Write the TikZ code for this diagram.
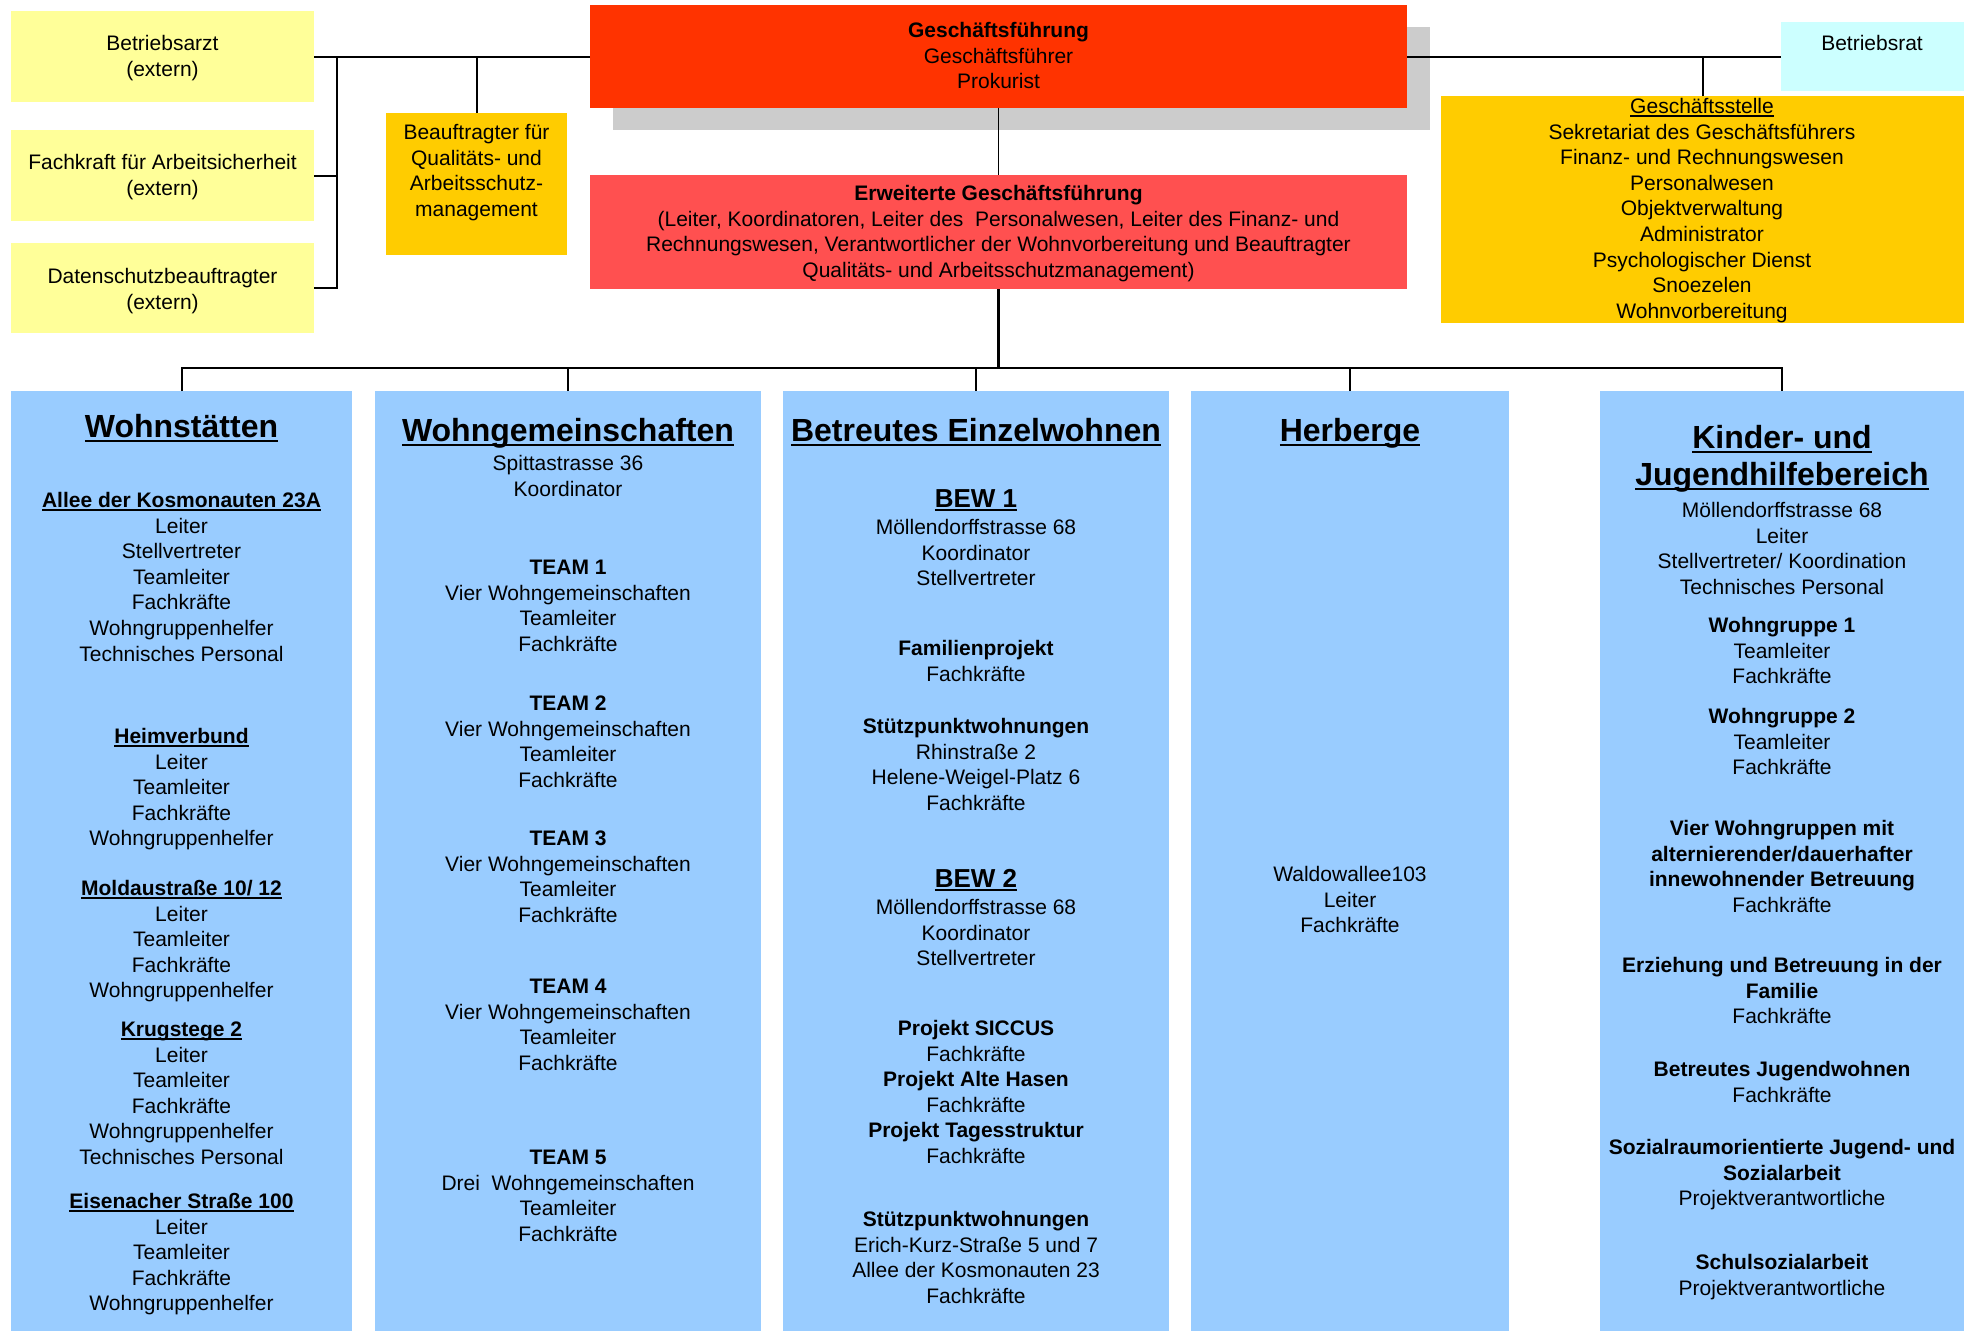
\documentclass[tikz,border=0pt]{standalone}
\usepackage{fontspec}
\setmainfont{Liberation Sans}
\definecolor{ylw}{HTML}{FFFF99}
\definecolor{gold}{HTML}{FFCC00}
\definecolor{gfred}{HTML}{FF3300}
\definecolor{erwred}{HTML}{FF5050}
\definecolor{cyanbox}{HTML}{CCFFFF}
\definecolor{colblue}{HTML}{99CCFF}
\definecolor{shadowgray}{HTML}{CCCCCC}
\newcommand\bl[1]{\begin{tabular}[t]{@{}c@{}}#1\end{tabular}}
\newcommand\myul[1]{\setbox0=\hbox{#1}\rlap{\rule[-0.15em]{\wd0}{0.07em}}\box0}
\tikzset{
 boxn/.style={inner sep=0pt, outer sep=0pt, draw=none, anchor=north west},
 txt/.style={inner sep=0pt, anchor=base, font=\fontsize{21pt}{25.6pt}\selectfont},
 ttl/.style={inner sep=0pt, anchor=base, font=\fontsize{32pt}{37pt}\selectfont\bfseries},
 bew/.style={inner sep=0pt, anchor=base, font=\fontsize{26pt}{30pt}\selectfont\bfseries},
 conn/.style={line width=2pt, black},
}
\begin{document}
\begin{tikzpicture}[x=1pt,y=-1pt]
\useasboundingbox (0,0) rectangle (1964,1331);
\fill[white] (0,0) rectangle (1964,1331);
% shadow
\fill[shadowgray] (613,27) rectangle (1430,130);
% boxes
\node[boxn, fill=ylw, minimum width=303pt, minimum height=91pt] (arzt) at (11,11) {};
\node[boxn, fill=ylw, minimum width=303pt, minimum height=91pt] (fk) at (11,130) {};
\node[boxn, fill=ylw, minimum width=303pt, minimum height=90pt] (ds) at (11,243) {};
\node[boxn, fill=gold, minimum width=181pt, minimum height=142pt] (bq) at (386,113) {};
\node[boxn, fill=gfred, minimum width=817pt, minimum height=103pt] (gf) at (590,5) {};
\node[boxn, fill=erwred, minimum width=817pt, minimum height=114pt] (erw) at (590,175) {};
\node[boxn, fill=cyanbox, minimum width=183pt, minimum height=69pt] (brat) at (1781,22) {};
\node[boxn, fill=gold, minimum width=523pt, minimum height=227pt] (gst) at (1441,96) {};
\node[boxn, fill=colblue, minimum width=341pt, minimum height=940pt] (c1) at (11,391) {};
\node[boxn, fill=colblue, minimum width=386pt, minimum height=940pt] (c2) at (375,391) {};
\node[boxn, fill=colblue, minimum width=386pt, minimum height=940pt] (c3) at (783,391) {};
\node[boxn, fill=colblue, minimum width=318pt, minimum height=940pt] (c4) at (1191,391) {};
\node[boxn, fill=colblue, minimum width=364pt, minimum height=940pt] (c5) at (1600,391) {};
% connectors
\coordinate (lb) at (337,56.5);
\coordinate (busy) at (0,368);
\draw[conn] (gf.west) -- (arzt.east);
\draw[conn] (lb) |- (fk.east);
\draw[conn] (lb) |- (ds.east);
\draw[conn] (bq.north) -- (bq.north |- gf.west);
\draw[conn] (gf.east) -- (brat.west);
\draw[conn] (gst.north) -- (gst.north |- gf.east);
\draw[line width=1.3pt] (gf.south) -- (erw.north);
\draw[line width=2.6pt] (erw.south) -- (erw.south |- busy);
\draw[conn] (c1.north) -- (c1.north |- busy) -- (c5.north |- busy) -- (c5.north);
\draw[conn] (c2.north) -- (c2.north |- busy);
\draw[conn] (c3.north) -- (c3.north |- busy);
\draw[conn] (c4.north) -- (c4.north |- busy);
% top texts
\node[txt] (tarzt) at (162.5,50.5) {\bl{Betriebsarzt\\(extern)}};
\node[txt] (tfk) at (162.5,169.5) {\bl{Fachkraft für Arbeitsicherheit\\(extern)}};
\node[txt] (tds) at (162.5,283.5) {\bl{Datenschutzbeauftragter\\(extern)}};
\node[txt] (tbq) at (476.5,139.5) {\bl{Beauftragter für\\Qualitäts- und\\Arbeitsschutz-\\management}};
\node[txt] (tgf) at (998.5,37.5) {\bl{\textbf{Geschäftsführung}\\Geschäftsführer\\Prokurist}};
\node[txt] (terw) at (998.5,200.5) {\bl{\textbf{Erweiterte Geschäftsführung}\\(Leiter, Koordinatoren, Leiter des\ \ Personalwesen, Leiter des Finanz- und\\Rechnungswesen, Verantwortlicher der Wohnvorbereitung und Beauftragter\\Qualitäts- und Arbeitsschutzmanagement)}};
\node[txt] (tbr) at (1872,50.5) {Betriebsrat};
\node[txt] (tgs) at (1702,113.5) {\bl{\myul{Geschäftsstelle}\\Sekretariat des Geschäftsführers\\Finanz- und Rechnungswesen\\Personalwesen\\Objektverwaltung\\Administrator\\Psychologischer Dienst\\Snoezelen\\Wohnvorbereitung}};
% column 1
\node[ttl] (h1) at (181.5,437) {\myul{Wohnstätten}};
\node[txt] (w1) at (181.5,507.5) {\bl{\textbf{\myul{Allee der Kosmonauten 23A}}\\Leiter\\Stellvertreter\\Teamleiter\\Fachkräfte\\Wohngruppenhelfer\\Technisches Personal}};
\node[txt] (w2) at (181.5,743.5) {\bl{\textbf{\myul{Heimverbund}}\\Leiter\\Teamleiter\\Fachkräfte\\Wohngruppenhelfer}};
\node[txt] (w3) at (181.5,895.5) {\bl{\textbf{\myul{Moldaustraße 10/ 12}}\\Leiter\\Teamleiter\\Fachkräfte\\Wohngruppenhelfer}};
\node[txt] (w4) at (181.5,1036.5) {\bl{\textbf{\myul{Krugstege 2}}\\Leiter\\Teamleiter\\Fachkräfte\\Wohngruppenhelfer\\Technisches Personal}};
\node[txt] (w5) at (181.5,1208.5) {\bl{\textbf{\myul{Eisenacher Straße 100}}\\Leiter\\Teamleiter\\Fachkräfte\\Wohngruppenhelfer}};
% column 2
\node[ttl] (h2) at (568,441) {\myul{Wohngemeinschaften}};
\node[txt] (g0) at (568,470.5) {\bl{Spittastrasse 36\\Koordinator}};
\node[txt] (g1) at (568,574.5) {\bl{\textbf{TEAM 1}\\Vier Wohngemeinschaften\\Teamleiter\\Fachkräfte}};
\node[txt] (g2) at (568,710.5) {\bl{\textbf{TEAM 2}\\Vier Wohngemeinschaften\\Teamleiter\\Fachkräfte}};
\node[txt] (g3) at (568,845.5) {\bl{\textbf{TEAM 3}\\Vier Wohngemeinschaften\\Teamleiter\\Fachkräfte}};
\node[txt] (g4) at (568,993.5) {\bl{\textbf{TEAM 4}\\Vier Wohngemeinschaften\\Teamleiter\\Fachkräfte}};
\node[txt] (g5) at (568,1164.5) {\bl{\textbf{TEAM 5}\\Drei\ \ Wohngemeinschaften\\Teamleiter\\Fachkräfte}};
% column 3
\node[ttl] (h3) at (976,441) {\myul{Betreutes Einzelwohnen}};
\node[bew] (b1) at (976,507) {\myul{BEW 1}};
\node[txt] (b1a) at (976,534.5) {\bl{Möllendorffstrasse 68\\Koordinator\\Stellvertreter}};
\node[txt] (b1b) at (976,655.5) {\bl{\textbf{Familienprojekt}\\Fachkräfte}};
\node[txt] (b1c) at (976,733.5) {\bl{\textbf{Stützpunktwohnungen}\\Rhinstraße 2\\Helene-Weigel-Platz 6\\Fachkräfte}};
\node[bew] (b2) at (976,887) {\myul{BEW 2}};
\node[txt] (b2a) at (976,914.5) {\bl{Möllendorffstrasse 68\\Koordinator\\Stellvertreter}};
\node[txt] (b2b) at (976,1035.5) {\bl{\textbf{Projekt SICCUS}\\Fachkräfte\\\textbf{Projekt Alte Hasen}\\Fachkräfte\\\textbf{Projekt Tagesstruktur}\\Fachkräfte}};
\node[txt] (b2c) at (976,1226.5) {\bl{\textbf{Stützpunktwohnungen}\\Erich-Kurz-Straße 5 und 7\\Allee der Kosmonauten 23\\Fachkräfte}};
% column 4
\node[ttl] (h4) at (1350,441) {\myul{Herberge}};
\node[txt] (hb) at (1350,881.5) {\bl{Waldowallee103\\Leiter\\Fachkräfte}};
% column 5
\node[ttl] (h5) at (1782,448) {\bl{\myul{Kinder- und}\\\myul{Jugendhilfebereich}}};
\node[txt] (k0) at (1782,517.5) {\bl{Möllendorffstrasse 68\\Leiter\\Stellvertreter/ Koordination\\Technisches Personal}};
\node[txt] (k1) at (1782,632.5) {\bl{\textbf{Wohngruppe 1}\\Teamleiter\\Fachkräfte}};
\node[txt] (k2) at (1782,723.5) {\bl{\textbf{Wohngruppe 2}\\Teamleiter\\Fachkräfte}};
\node[txt] (k3) at (1782,835.5) {\bl{\textbf{Vier Wohngruppen mit}\\\textbf{alternierender/dauerhafter}\\\textbf{innewohnender Betreuung}\\Fachkräfte}};
\node[txt] (k4) at (1782,972.5) {\bl{\textbf{Erziehung und Betreuung in der}\\\textbf{Familie}\\Fachkräfte}};
\node[txt] (k5) at (1782,1076.5) {\bl{\textbf{Betreutes Jugendwohnen}\\Fachkräfte}};
\node[txt] (k6) at (1782,1154.5) {\bl{\textbf{Sozialraumorientierte Jugend- und}\\\textbf{Sozialarbeit}\\Projektverantwortliche}};
\node[txt] (k7) at (1782,1269.5) {\bl{\textbf{Schulsozialarbeit}\\Projektverantwortliche}};
\end{tikzpicture}
\end{document}
